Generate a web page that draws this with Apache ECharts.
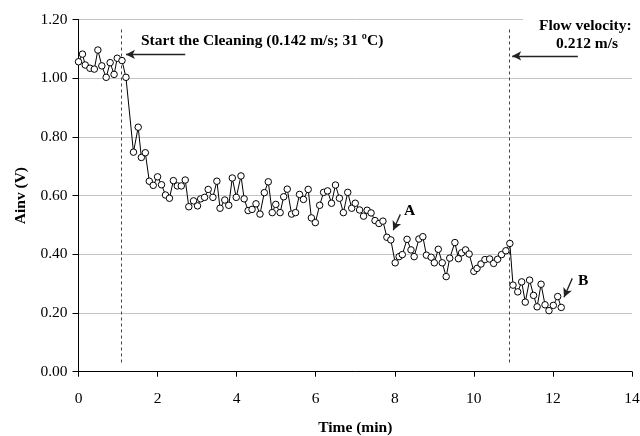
<!DOCTYPE html>
<html><head><meta charset="utf-8">
<script src="https://cdn.jsdelivr.net/npm/echarts@6/dist/echarts.min.js"></script>
<style>html,body{margin:0;padding:0;background:#fff}#c{width:640px;height:436px}</style>
</head><body><div id="c"></div>
<script>
const times = [0.0,0.1,0.17,0.29,0.4,0.49,0.59,0.7,0.8,0.9,0.98,1.1,1.2,1.39,1.51,1.59,1.69,1.79,1.89,2.0,2.1,2.2,2.3,2.4,2.5,2.6,2.7,2.79,2.91,3.01,3.09,3.19,3.28,3.4,3.5,3.58,3.7,3.8,3.89,3.99,4.11,4.19,4.29,4.39,4.49,4.59,4.7,4.8,4.9,4.99,5.1,5.19,5.28,5.39,5.49,5.59,5.69,5.81,5.89,5.99,6.1,6.2,6.3,6.4,6.5,6.6,6.7,6.81,6.91,7.0,7.11,7.21,7.3,7.4,7.5,7.6,7.7,7.8,7.9,8.01,8.11,8.19,8.31,8.41,8.49,8.61,8.71,8.8,8.92,9.0,9.1,9.2,9.3,9.39,9.52,9.61,9.69,9.79,9.88,10.0,10.08,10.18,10.28,10.4,10.5,10.6,10.7,10.81,10.91,10.99,11.11,11.21,11.3,11.41,11.51,11.6,11.7,11.8,11.9,12.01,12.12,12.21];
const ainv = [1.056,1.082,1.045,1.034,1.031,1.096,1.042,1.003,1.053,1.013,1.068,1.06,1.003,0.748,0.833,0.730,0.746,0.649,0.635,0.664,0.637,0.602,0.591,0.651,0.633,0.633,0.653,0.562,0.582,0.565,0.589,0.594,0.621,0.594,0.649,0.557,0.585,0.567,0.660,0.594,0.667,0.589,0.549,0.553,0.572,0.537,0.610,0.647,0.542,0.570,0.542,0.596,0.622,0.537,0.542,0.604,0.587,0.621,0.524,0.508,0.567,0.611,0.616,0.574,0.636,0.591,0.542,0.611,0.557,0.574,0.551,0.530,0.550,0.541,0.515,0.505,0.513,0.458,0.449,0.371,0.392,0.399,0.451,0.415,0.392,0.452,0.460,0.397,0.390,0.371,0.417,0.371,0.324,0.387,0.440,0.385,0.405,0.415,0.401,0.342,0.352,0.367,0.382,0.384,0.369,0.383,0.399,0.412,0.437,0.295,0.272,0.306,0.237,0.312,0.260,0.221,0.298,0.228,0.208,0.226,0.256,0.219];
const xTicks = {min:0, max:14, interval:2};
const yTicks = {min:0, max:1.2, interval:0.2};
const eventTimes = [1.09, 10.89];
const startLabel = 'Start the Cleaning (0.142 m/s; 31 ºC)';
const flowLabel = ['Flow velocity:', '0.212 m/s'];
const pointLabels = ['A', 'B'];

const FONT = '"Liberation Serif","Times New Roman",serif';
const FS = 15.5;
const pts = times.map((t,i)=>[t, ainv[i]]);
const chart = echarts.init(document.getElementById('c'), null, {renderer:'canvas'});
const arrowStyle = {color:'#222', width:1.3, type:'solid'};
const bold = 'bold ' + FS + 'px ' + FONT;
chart.setOption({
  animation:false,
  backgroundColor:'#fff',
  grid:{left:78.5, right:8, top:19.5, bottom:64.3, containLabel:false, outerBoundsMode:'none'},
  xAxis:{type:'value', min:xTicks.min, max:xTicks.max, interval:xTicks.interval,
    name:'Time (min)', nameLocation:'middle', nameGap:48,
    nameTextStyle:{fontFamily:FONT, fontWeight:'bold', fontSize:FS, color:'#000'},
    axisLine:{lineStyle:{color:'#000', width:1}},
    axisTick:{show:true, length:5, lineStyle:{color:'#000'}},
    axisLabel:{fontFamily:FONT, fontSize:FS, color:'#000', margin:19},
    splitLine:{show:false}},
  yAxis:{type:'value', min:yTicks.min, max:yTicks.max, interval:yTicks.interval,
    name:'Ainv (V)', nameLocation:'middle', nameGap:48, nameRotate:90,
    nameTextStyle:{fontFamily:FONT, fontWeight:'bold', fontSize:FS, color:'#000'},
    axisLine:{show:true, lineStyle:{color:'#000', width:1}},
    axisTick:{show:true, length:6, lineStyle:{color:'#000'}},
    axisLabel:{fontFamily:FONT, fontSize:FS, color:'#000', margin:11, formatter:v=>v.toFixed(2)},
    splitLine:{show:true, lineStyle:{color:'#c4c4c4', width:1}}},
  series:[
    {type:'line', data:pts, symbol:'circle', symbolSize:6.5,
     itemStyle:{color:'#fff', borderColor:'#000', borderWidth:1},
     lineStyle:{color:'#000', width:1}, z:5, silent:true,
     markLine:{silent:true, symbol:['none','arrow'], symbolSize:[7,9], label:{show:false},
       lineStyle:arrowStyle, animation:false,
       data:[
         [{coord:[2.70,1.081]},{coord:[1.20,1.081]}],
         [{coord:[12.63,1.076]},{coord:[10.97,1.076]}],
         [{coord:[8.14,0.536]},{coord:[7.96,0.482]}],
         [{coord:[12.49,0.318]},{coord:[12.28,0.254]}]
       ]}},
    {type:'line', data:[], silent:true,
     markLine:{silent:true, symbol:['none','none'], label:{show:false},
       lineStyle:{color:'#444', width:1, type:[3,3]},
       data:eventTimes.map(t=>[{coord:[t,1.166]},{coord:[t,0.03]}])}}
  ],
  graphic:[
    {type:'rect', z:50, shape:{x:523, y:14, width:117, height:38}, style:{fill:'#fff'}},
    {type:'text', z:100, left:141, top:33, style:{text:startLabel, font:bold, fill:'#000'}},
    {type:'text', z:100, left:539, top:18, style:{text:flowLabel[0], font:bold, fill:'#000'}},
    {type:'text', z:100, left:556, top:36, style:{text:flowLabel[1], font:bold, fill:'#000'}},
    {type:'text', z:100, left:404, top:203, style:{text:pointLabels[0], font:bold, fill:'#000'}},
    {type:'text', z:100, left:578, top:273, style:{text:pointLabels[1], font:bold, fill:'#000'}}
  ]
});
</script></body></html>
